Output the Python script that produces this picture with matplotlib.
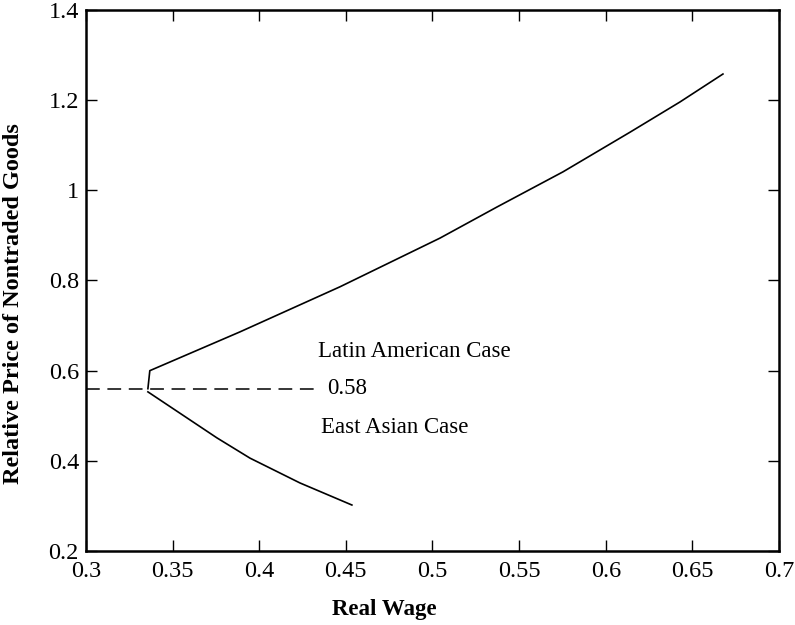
import matplotlib
matplotlib.use('Agg')
import matplotlib.pyplot as plt
import numpy as np

# Latin American case (upper branch)
latin_x = [0.3358, 0.3369, 0.3889, 0.4466, 0.5043, 0.5372, 0.5753, 0.6140, 0.6428, 0.6676]
latin_y = [0.560, 0.600, 0.686, 0.786, 0.894, 0.963, 1.041, 1.129, 1.196, 1.258]

# East Asian case (lower branch)
east_x = [0.3358, 0.3756, 0.3947, 0.4235, 0.4535]
east_y = [0.553, 0.451, 0.406, 0.351, 0.302]

# threshold line
thresh_y = 0.56
thresh_x_end = 0.433

plt.rcParams['font.family'] = ['Liberation Serif', 'DejaVu Serif']

fig = plt.figure(figsize=(7.95, 6.25), dpi=100)
ax = fig.add_axes([0.108, 0.1184, 0.872, 0.8656])

ax.plot(latin_x, latin_y, color='black', lw=1.2)
ax.plot(east_x, east_y, color='black', lw=1.2)
ax.plot([0.3, thresh_x_end], [thresh_y, thresh_y], color='black', lw=1.1,
        dashes=(9, 5))

ax.text(0.4390, thresh_y, '0.58', fontsize=16.5, va='center', ha='left')
ax.text(0.434, 0.642, 'Latin American Case', fontsize=16.5, va='center', ha='left')
ax.text(0.4357, 0.474, 'East Asian Case', fontsize=16.5, va='center', ha='left')

ax.set_xlim(0.3, 0.7)
ax.set_ylim(0.2, 1.4)
ax.set_xticks(np.arange(0.3, 0.701, 0.05))
ax.set_xticklabels(['0.3', '0.35', '0.4', '0.45', '0.5', '0.55', '0.6', '0.65', '0.7'])
ax.set_yticks(np.arange(0.2, 1.401, 0.2))
ax.set_yticklabels(['0.2', '0.4', '0.6', '0.8', '1', '1.2', '1.4'])

ax.tick_params(direction='in', length=8, width=1, top=True, right=True,
               labelsize=17.5)
ax.tick_params(axis='x', pad=7)
ax.tick_params(axis='y', pad=5)
for s in ax.spines.values():
    s.set_linewidth(1.8)

ax.set_xlabel('Real Wage', fontsize=16.5, fontweight='bold')
ax.set_ylabel('Relative Price of Nontraded Goods', fontsize=17.5, fontweight='bold')
ax.xaxis.set_label_coords(0.431, -0.109)
ax.yaxis.set_label_coords(-0.104, 0.4566)
ax.xaxis.label.set_va('center')
ax.yaxis.label.set_va('center')

fig.savefig('out.png', dpi=100)
